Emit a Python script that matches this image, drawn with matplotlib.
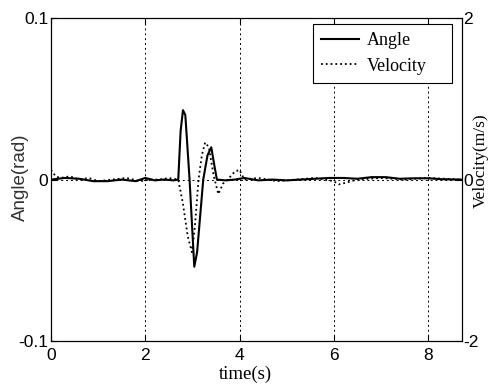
import numpy as np
import matplotlib.pyplot as plt

# Angle (rad)
t_angle = [0, 0.3, 0.6, 0.9, 1.2, 1.5, 1.8, 2.0, 2.2, 2.4, 2.6, 2.7, 2.75, 2.8,
           2.85, 2.94, 3.04, 3.1, 3.23, 3.32, 3.4, 3.47, 3.52, 3.7, 3.9, 4.1,
           4.4, 4.7, 5.0, 5.3, 5.6, 5.9, 6.2, 6.5, 6.8, 7.1, 7.4, 7.7, 8.0, 8.3, 8.7]
angle = [0, 0.001, 0.0005, -0.001, -0.001, 0, -0.001, 0.001, -0.0005, 0, -0.0005,
         0, 0.03, 0.043, 0.04, 0, -0.054, -0.045, 0, 0.015, 0.02, 0.008, 0,
         -0.0005, 0, 0.001, -0.0005, 0, -0.0005, 0, 0.0005, 0.001, 0.001, 0.0005,
         0.0015, 0.0015, 0.0005, 0.0008, 0.0008, 0.0002, 0]

# Velocity (m/s)
t_vel = [0, 0.1, 0.2, 0.4, 0.6, 0.8, 1.0, 1.3, 1.6, 1.9, 2.1, 2.3, 2.5, 2.7, 2.8,
         2.9, 2.99, 3.05, 3.13, 3.2, 3.27, 3.35, 3.45, 3.55, 3.65, 3.75, 3.9,
         4.0, 4.1, 4.4, 4.8, 5.2, 5.6, 6.0, 6.1, 6.25, 6.5, 7.0, 7.5, 8.0, 8.7]
velocity = [0.12, 0.04, 0.02, 0.04, 0.0, 0.02, -0.02, 0.0, 0.02, -0.02, 0.0, 0.0,
            0.02, 0.0, -0.3, -0.7, -0.9, -0.6, 0.0, 0.3, 0.46, 0.4, 0.05, -0.18,
            -0.05, 0.0, 0.1, 0.12, 0.0, 0.02, -0.02, 0.0, 0.02, -0.02, -0.06,
            -0.04, 0.0, 0.02, 0.0, 0.02, 0.0]

fig = plt.figure(figsize=(4.9, 3.87), dpi=100)
ax = fig.add_axes([0.104, 0.119, 0.839, 0.834])
ax2 = ax.twinx()

l1, = ax.plot(t_angle, angle, color="black", linewidth=1.5, label="Angle")
l2, = ax2.plot(t_vel, velocity, color="black", linestyle=":", linewidth=1.3,
               label="Velocity")

ax.set_xlim(0, 8.72)
ax.set_ylim(-0.1, 0.1)
ax2.set_ylim(-2, 2)
ax.set_xticks([0, 2, 4, 6, 8])
ax.set_yticks([-0.1, 0, 0.1])
ax.set_yticklabels(["-0.1", "0", "0.1"])
ax2.set_yticks([-2, 0, 2])
ax2.set_yticklabels(["-2", "0", "2"])

ax.grid(True, linestyle=(0, (2, 3)), color="black", linewidth=0.7)
ax.tick_params(direction="in", labelsize=12.5, top=True, length=4,
               labelfontfamily="Liberation Sans", pad=2)
ax.tick_params(axis="x", pad=5)
ax2.tick_params(direction="in", labelsize=12.5, length=4,
                labelfontfamily="Liberation Sans", pad=1)

ax.set_xlabel("time(s)", family="Liberation Serif", fontsize=13.5, va="center")
ax.xaxis.set_label_coords(0.472, -0.102)
ax.set_ylabel("Angle(rad)", family="Liberation Sans", fontsize=13.5,
              color="#333333", va="center")
ax.yaxis.set_label_coords(-0.075, 0.508)
ax2.set_ylabel("Velocity(m/s)", family="Liberation Serif", fontsize=12.5,
               va="center")
ax2.yaxis.set_label_coords(1.045, 0.56)

leg = ax.legend(handles=[l1, l2], loc="upper left", mode="expand",
                bbox_to_anchor=(0.6375, 0.0, 0.338, 0.981), borderaxespad=0,
                fancybox=False, edgecolor="black", framealpha=1,
                handlelength=2.1, handletextpad=0.45, labelspacing=0.45,
                borderpad=0.45, prop={"family": "Liberation Serif", "size": 13})
leg.get_frame().set_linewidth(0.8)

fig.savefig("out.png", dpi=100)
